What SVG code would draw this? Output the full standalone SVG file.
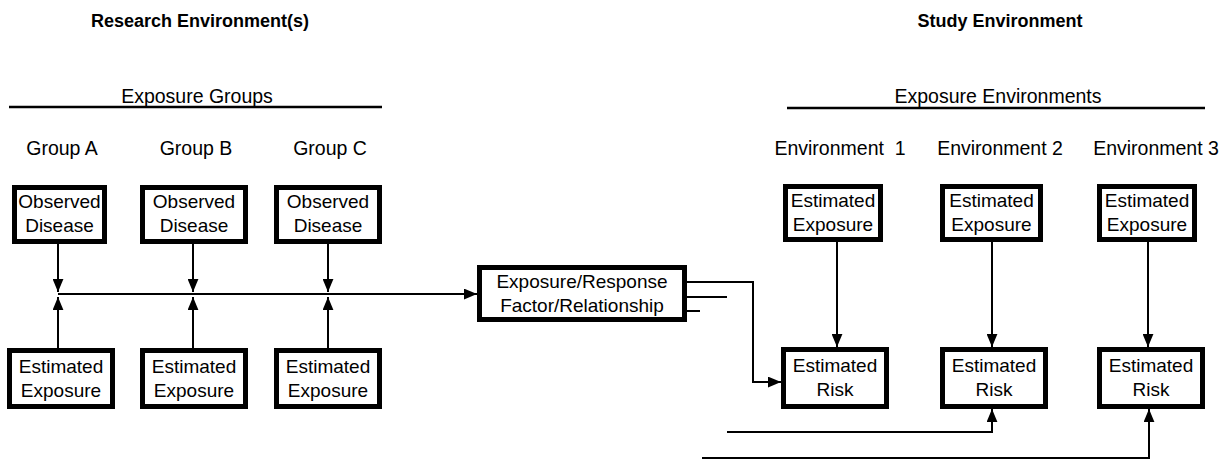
<svg xmlns="http://www.w3.org/2000/svg" width="1230" height="463" viewBox="0 0 1230 463">
<style>
text{font-family:"Liberation Sans",Arial,sans-serif;fill:#000}
.t{font-size:18px;font-weight:bold;text-anchor:middle}
.l{font-size:19.5px;text-anchor:middle}
.b{font-size:19px;text-anchor:middle}
.box{fill:#fff;stroke:#000;stroke-width:5}
.c{fill:none;stroke:#000;stroke-width:2}
.hd{stroke:#000;stroke-width:2.5}
</style>
<defs>
<marker id="ah" viewBox="0 0 12 10" refX="12" refY="5" markerWidth="13" markerHeight="11" markerUnits="userSpaceOnUse" orient="auto">
<path d="M0,0 L12,5 L0,10 Z" fill="#000"/>
</marker>
</defs>
<rect width="1230" height="463" fill="#fff"/>
<g id="headings">
<text class="t" x="200" y="27">Research Environment(s)</text>
<text class="t" x="1000" y="27">Study Environment</text>
<text class="l" x="197" y="103">Exposure Groups</text>
<line class="hd" x1="9" y1="107" x2="382" y2="107"/>
<text class="l" x="998" y="103">Exposure Environments</text>
<line class="hd" x1="787" y1="108" x2="1205" y2="108"/>
<text class="l" x="62" y="155">Group A</text>
<text class="l" x="196" y="155">Group B</text>
<text class="l" x="330" y="155">Group C</text>
<text class="l" x="840" y="155" xml:space="preserve">Environment  1</text>
<text class="l" x="1000" y="155">Environment 2</text>
<text class="l" x="1156" y="155">Environment 3</text>
</g>
<g id="connectors">
<line class="c" x1="58" y1="244" x2="58" y2="292" marker-end="url(#ah)"/>
<line class="c" x1="193" y1="244" x2="193" y2="292" marker-end="url(#ah)"/>
<line class="c" x1="328" y1="244" x2="328" y2="292" marker-end="url(#ah)"/>
<line class="c" x1="58" y1="348" x2="58" y2="297" marker-end="url(#ah)"/>
<line class="c" x1="193" y1="348" x2="193" y2="297" marker-end="url(#ah)"/>
<line class="c" x1="328" y1="348" x2="328" y2="297" marker-end="url(#ah)"/>
<line class="c" x1="58" y1="294" x2="477" y2="294" stroke-width="3" marker-end="url(#ah)"/>
<polyline class="c" points="687,282 753,282 753,382 781,382" marker-end="url(#ah)"/>
<line class="c" x1="687" y1="297" x2="727" y2="297"/>
<line class="c" x1="687" y1="311" x2="700" y2="311"/>
<line class="c" x1="837" y1="242" x2="837" y2="347" marker-end="url(#ah)"/>
<line class="c" x1="992" y1="242" x2="992" y2="347" marker-end="url(#ah)"/>
<line class="c" x1="1148" y1="242" x2="1148" y2="347" marker-end="url(#ah)"/>
<polyline class="c" points="727,432 992,432 992,409" marker-end="url(#ah)"/>
<polyline class="c" points="702,458 1149,458 1149,409" marker-end="url(#ah)"/>
</g>
<g id="obsA"><rect class="box" x="14.5" y="187.5" width="90" height="54"/><text class="b" x="59.5" y="208">Observed</text><text class="b" x="59.5" y="232">Disease</text></g>
<g id="obsB"><rect class="box" x="142.5" y="187.5" width="103" height="54"/><text class="b" x="194" y="208">Observed</text><text class="b" x="194" y="232">Disease</text></g>
<g id="obsC"><rect class="box" x="276.5" y="187.5" width="103" height="54"/><text class="b" x="328" y="208">Observed</text><text class="b" x="328" y="232">Disease</text></g>
<g id="expA"><rect class="box" x="9.5" y="350.5" width="103" height="56"/><text class="b" x="61" y="373">Estimated</text><text class="b" x="61" y="397">Exposure</text></g>
<g id="expB"><rect class="box" x="142.5" y="350.5" width="103" height="56"/><text class="b" x="194" y="373">Estimated</text><text class="b" x="194" y="397">Exposure</text></g>
<g id="expC"><rect class="box" x="276.5" y="350.5" width="103" height="56"/><text class="b" x="328" y="373">Estimated</text><text class="b" x="328" y="397">Exposure</text></g>
<g id="erf"><rect class="box" x="479.5" y="267.5" width="205" height="52"/><text class="b" x="582" y="288">Exposure/Response</text><text class="b" x="582" y="312">Factor/Relationship</text></g>
<g id="env1exp"><rect class="box" x="785.5" y="186.5" width="95" height="53"/><text class="b" x="833" y="207">Estimated</text><text class="b" x="833" y="231">Exposure</text></g>
<g id="env2exp"><rect class="box" x="942.5" y="186.5" width="98" height="53"/><text class="b" x="991.5" y="207">Estimated</text><text class="b" x="991.5" y="231">Exposure</text></g>
<g id="env3exp"><rect class="box" x="1099.5" y="186.5" width="95" height="53"/><text class="b" x="1147" y="207">Estimated</text><text class="b" x="1147" y="231">Exposure</text></g>
<g id="env1risk"><rect class="box" x="783.5" y="349.5" width="103" height="57"/><text class="b" x="835" y="372">Estimated</text><text class="b" x="835" y="396">Risk</text></g>
<g id="env2risk"><rect class="box" x="942.5" y="349.5" width="103" height="57"/><text class="b" x="994" y="372">Estimated</text><text class="b" x="994" y="396">Risk</text></g>
<g id="env3risk"><rect class="box" x="1099.5" y="349.5" width="103" height="57"/><text class="b" x="1151" y="372">Estimated</text><text class="b" x="1151" y="396">Risk</text></g>
</svg>
